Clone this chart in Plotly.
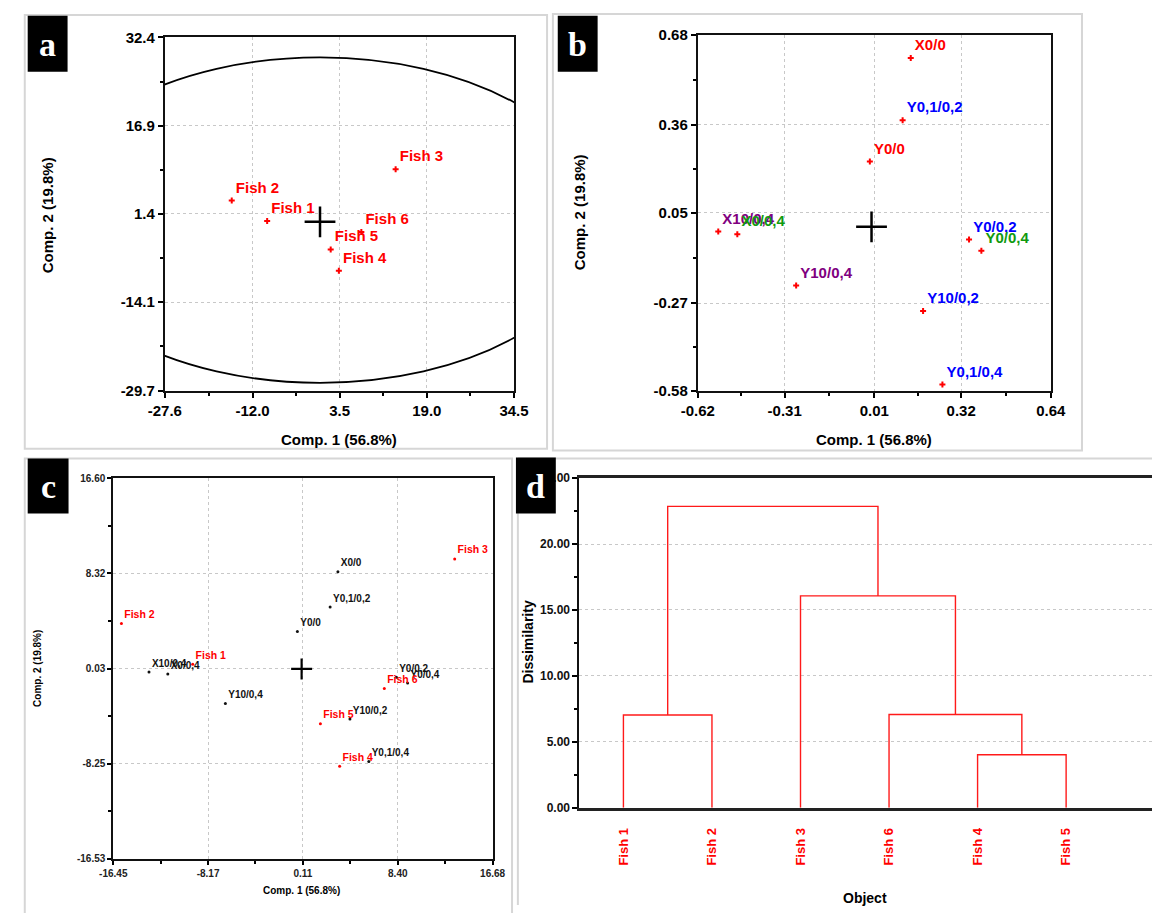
import plotly.graph_objects as go

W, H = 1167, 913
RED, BLUE, GREEN, PURPLE = "#ff0000", "#0000ff", "#109a10", "#800080"
SANS = "Liberation Sans, Arial, sans-serif"
NARROW = "Liberation Sans Narrow, Arial Narrow, Liberation Sans, sans-serif"
SERIF = "Liberation Serif, Times New Roman, serif"

# ---------------- data ----------------
# Panel a: PCA scores of the fish
fish_names = ["Fish 1", "Fish 2", "Fish 3", "Fish 4", "Fish 5", "Fish 6"]
a_comp1 = [-9.4, -15.7, 13.45, 3.35, 1.9, 7.35]
a_comp2 = [0.15, 3.75, 9.25, -8.6, -4.85, -1.8]
a_xticks = [-27.6, -12.0, 3.5, 19.0, 34.5]
a_yticks = [-29.7, -14.1, 1.4, 16.9, 32.4]
ellipse_center = (0.0, 0.3)
ellipse_semi = (50.0, 28.6)

# Panel b: variable loadings
var_names = ["X0/0", "Y0,1/0,2", "Y0/0", "X10/0,4", "X0/0,4", "Y0/0,2",
             "Y0/0,4", "Y10/0,4", "Y10/0,2", "Y0,1/0,4"]
b_comp1 = [0.140, 0.111, -0.006, -0.547, -0.479, 0.348, 0.392, -0.269, 0.184, 0.253]
b_comp2 = [0.597, 0.377, 0.231, -0.017, -0.026, -0.045, -0.085, -0.208, -0.298, -0.558]
b_colors = [RED, BLUE, RED, PURPLE, GREEN, BLUE, GREEN, PURPLE, BLUE, BLUE]
b_xticks = [-0.62, -0.31, 0.01, 0.32, 0.64]
b_yticks = [-0.58, -0.27, 0.05, 0.36, 0.68]

# Panel c: biplot
c_var_comp1 = [3.17, 2.49, -0.37, -13.33, -11.69, 8.27, 9.26, -6.66, 4.22, 5.87]
c_var_comp2 = [8.46, 5.39, 3.25, -0.28, -0.45, -0.73, -1.22, -3.01, -4.35, -8.05]
c_fish_comp1 = [-9.51, -15.74, 13.37, 3.32, 1.64, 7.22]
c_fish_comp2 = [0.40, 3.94, 9.57, -8.48, -4.77, -1.70]
c_xticks = [-16.45, -8.17, 0.11, 8.40, 16.68]
c_yticks = [-16.53, -8.25, 0.03, 8.32, 16.60]

# Panel d: dendrogram
leaf_order = ["Fish 1", "Fish 2", "Fish 3", "Fish 6", "Fish 4", "Fish 5"]
merge_left = ["Fish 4", "Fish 1", "Fish 6", "Fish 3", "C2"]
merge_right = ["Fish 5", "Fish 2", "C1", "C3", "C4"]
merge_height = [4.02, 7.04, 7.08, 16.07, 22.86]
d_yticks = [0.0, 5.0, 10.0, 15.0, 20.0, 25.0]

# ---------------- helpers ----------------
def fx(px):
    return px / W

def fy(py):
    return 1 - py / H

def mids(t):
    return [(t[i] + t[i + 1]) / 2 for i in range(len(t) - 1)]

fig = go.Figure()

def axis_common(ticks, fmt, size, color="black", minor=True, tlen=5):
    d = dict(
        tickmode="array", tickvals=ticks, ticktext=[fmt.format(v) for v in ticks],
        range=[ticks[0], ticks[-1]], ticks="outside", ticklen=tlen, tickwidth=1.5,
        tickcolor="black", showline=True, linewidth=2, linecolor="#111", mirror=True,
        showgrid=True, gridcolor="#c8c8c8", griddash="dot", gridwidth=1,
        zeroline=False, tickfont=dict(family=SANS, size=size, color=color, weight="bold"),
        fixedrange=True,
    )
    if minor:
        d["minor"] = dict(tickvals=mids(ticks), ticks="outside", ticklen=3,
                          tickcolor="black", showgrid=False)
    return d

# ---------- Panel a ----------
fig.add_trace(go.Scatter(
    x=a_comp1, y=a_comp2, mode="markers+text", text=fish_names,
    textposition="top right", marker=dict(symbol="cross", size=5, color=RED),
    textfont=dict(family=SANS, size=15, color=RED, weight="bold"),
    xaxis="x", yaxis="y", cliponaxis=False, showlegend=False))
fig.add_trace(go.Scatter(
    x=[0], y=[0], mode="markers",
    marker=dict(symbol="cross-thin", size=22, line=dict(width=2.5, color="black")),
    xaxis="x", yaxis="y", showlegend=False))

# ---------- Panel b ----------
fig.add_trace(go.Scatter(
    x=b_comp1, y=b_comp2, mode="markers+text", text=var_names,
    textposition="top right", marker=dict(symbol="cross", size=5, color=RED),
    textfont=dict(family=SANS, size=15, color=b_colors, weight="bold"),
    xaxis="x2", yaxis="y2", cliponaxis=False, showlegend=False))
fig.add_trace(go.Scatter(
    x=[0], y=[0], mode="markers",
    marker=dict(symbol="cross-thin", size=22, line=dict(width=2.5, color="black")),
    xaxis="x2", yaxis="y2", showlegend=False))

# ---------- Panel c ----------
fig.add_trace(go.Scatter(
    x=c_var_comp1, y=c_var_comp2, mode="markers+text", text=var_names,
    textposition="top right", marker=dict(symbol="circle", size=3, color="#111"),
    textfont=dict(family=SANS, size=10, color="#111", weight="bold"),
    xaxis="x3", yaxis="y3", cliponaxis=False, showlegend=False))
fig.add_trace(go.Scatter(
    x=c_fish_comp1, y=c_fish_comp2, mode="markers+text", text=fish_names,
    textposition="top right", marker=dict(symbol="circle", size=3, color=RED),
    textfont=dict(family=SANS, size=10.5, color=RED, weight="bold"),
    xaxis="x3", yaxis="y3", cliponaxis=False, showlegend=False))
fig.add_trace(go.Scatter(
    x=[0], y=[0], mode="markers",
    marker=dict(symbol="cross-thin", size=15, line=dict(width=2.2, color="black")),
    xaxis="x3", yaxis="y3", showlegend=False))

# ---------- Panel d ----------
pos = {name: (float(i), 0.0) for i, name in enumerate(leaf_order)}
dx, dy = [], []
for k, (l, r, h) in enumerate(zip(merge_left, merge_right, merge_height)):
    xl, yl = pos[l]
    xr, yr = pos[r]
    dx += [xl, xl, xr, xr, None]
    dy += [yl, h, h, yr, None]
    pos["C%d" % (k + 1)] = ((xl + xr) / 2, h)
fig.add_trace(go.Scatter(
    x=dx, y=dy, mode="lines", line=dict(color="#ff1a1a", width=1.4),
    xaxis="x4", yaxis="y4", showlegend=False))

# ---------------- layout ----------------
xa = axis_common(a_xticks, "{:.1f}", 15)
ya = axis_common(a_yticks, "{:.1f}", 15)
xa.update(domain=[fx(152), fx(511)], anchor="y")
ya.update(domain=[fy(389), fy(29)], anchor="x")

xb = axis_common(b_xticks, "{:.2f}", 15)
yb = axis_common(b_yticks, "{:.2f}", 15)
xb.update(domain=[fx(700), fx(1063)], anchor="y2")
yb.update(domain=[fy(389), fy(26)], anchor="x2")

xc = axis_common(c_xticks, "{:.2f}", 10, color="#222", tlen=4)
yc = axis_common(c_yticks, "{:.2f}", 10, color="#222", tlen=4)
xc.update(domain=[fx(99), fx(489)], anchor="y3")
yc.update(domain=[fy(866), fy(478)], anchor="x3")

xd = dict(domain=[fx(578), 1.0], anchor="y4", range=[-0.5, 5.97],
          tickmode="array", tickvals=list(range(len(leaf_order))), ticktext=leaf_order,
          tickangle=-90, ticks="", ticklabelstandoff=12,
          tickfont=dict(family=SANS, size=13, color=RED, weight="bold"),
          showline=True, linewidth=3, linecolor="#222", mirror=True,
          showgrid=False, zeroline=False, fixedrange=True)
yd = dict(domain=[fy(814), fy(478)], anchor="x4", range=[0, 25],
          tickmode="array", tickvals=d_yticks, ticktext=["{:.2f}".format(v) for v in d_yticks],
          ticks="outside", ticklen=5, tickwidth=1.5, tickcolor="black",
          tickfont=dict(family=NARROW, size=12, color="#111", weight="bold"),
          minor=dict(tickvals=mids(d_yticks), ticks="outside", ticklen=3, tickcolor="black",
                     showgrid=False),
          showline=True, linewidth=1.5, linecolor="#111", mirror=False,
          showgrid=True, gridcolor="#c8c8c8", griddash="dot", gridwidth=1,
          zeroline=False, fixedrange=True)

shapes = []
# light grey panel frames
for (x0, y0, x1, y1) in [(8, 6, 545, 448), (551, 5, 1095, 450), (8, 458, 509, 925)]:
    shapes.append(dict(type="rect", xref="paper", yref="paper", x0=fx(x0), x1=fx(x1),
                       y0=fy(y1), y1=fy(y0), line=dict(color="#d6d6d6", width=2),
                       fillcolor="rgba(0,0,0,0)", layer="below"))
shapes.append(dict(type="line", xref="paper", yref="paper", x0=fx(515), x1=1.0,
                   y0=fy(458), y1=fy(458), line=dict(color="#d6d6d6", width=2)))
shapes.append(dict(type="line", xref="paper", yref="paper", x0=fx(515), x1=fx(515),
                   y0=fy(458), y1=0, line=dict(color="#d6d6d6", width=2)))
# ellipse of panel a
shapes.append(dict(type="circle", xref="x", yref="y",
                   x0=ellipse_center[0] - ellipse_semi[0], x1=ellipse_center[0] + ellipse_semi[0],
                   y0=ellipse_center[1] - ellipse_semi[1], y1=ellipse_center[1] + ellipse_semi[1],
                   line=dict(color="black", width=1.8), layer="above"))

annotations = []
# letter boxes
for letter, (x0, y0, x1, y1) in zip("abcd", [(11, 7, 52, 64), (556, 7, 597, 64),
                                             (11, 458, 53, 514), (513, 457, 554, 514)]):
    shapes.append(dict(type="rect", xref="paper", yref="paper", x0=fx(x0), x1=fx(x1),
                       y0=fy(y1), y1=fy(y0), line=dict(width=0), fillcolor="black",
                       layer="above"))
    annotations.append(dict(text=letter, xref="paper", yref="paper", x=fx((x0 + x1) / 2),
                            y=fy((y0 + y1) / 2 + 1), xanchor="center", yanchor="middle",
                            showarrow=False,
                            font=dict(family=SERIF, size=34, color="white", weight="bold")))

def title(text, x, y, size, angle=0, family=SANS):
    annotations.append(dict(text=text, xref="paper", yref="paper", x=fx(x), y=fy(y),
                            xanchor="center", yanchor="middle", showarrow=False,
                            textangle=angle,
                            font=dict(family=family, size=size, color="black", weight="bold")))

title("Comp. 1 (56.8%)", 331, 439, 15)
title("Comp. 2 (19.8%)", 31, 210, 15, -90)
title("Comp. 1 (56.8%)", 881, 439, 15)
title("Comp. 2 (19.8%)", 578, 207, 15, -90)
title("Comp. 1 (56.8%)", 293, 898, 10)
title("Comp. 2 (19.8%)", 21, 672, 10, -90)
title("Dissimilarity", 525, 645, 14, -90)
title("Object", 872, 906, 14, 0, NARROW)

fig.update_layout(
    width=W, height=H, margin=dict(l=0, r=0, t=0, b=0),
    paper_bgcolor="white", plot_bgcolor="white",
    xaxis=xa, yaxis=ya, xaxis2=xb, yaxis2=yb, xaxis3=xc, yaxis3=yc,
    xaxis4=xd, yaxis4=yd, shapes=shapes, annotations=annotations,
    showlegend=False,
)
fig.write_html("out.html")
